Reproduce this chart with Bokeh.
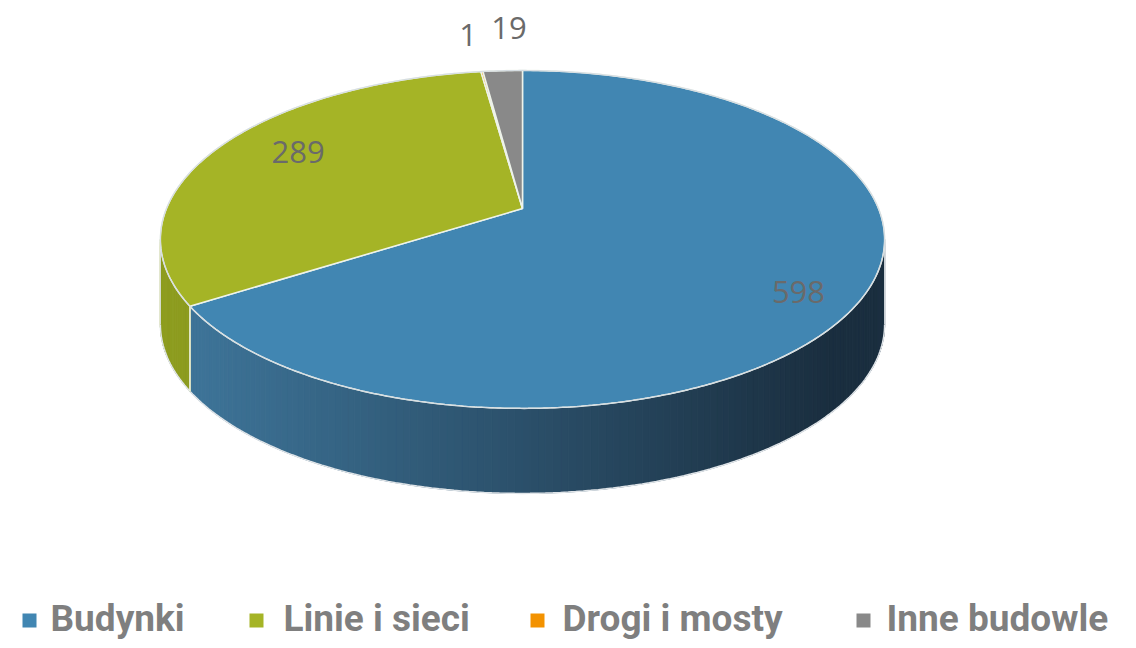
import numpy as np
from bokeh.plotting import figure
from bokeh.embed import file_html
from bokeh.resources import INLINE
from bokeh.core.properties import value

# ---- data ----
categories = ["Budynki", "Linie i sieci", "Drogi i mosty", "Inne budowle"]
values = [598, 289, 1, 19]
top_colors = ["#4186b2", "#a5b426", "#f39200", "#898989"]

# ---- layout (screen pixel coordinates) ----
AX, AY = 522.0, 208.0      # projected centre of the pie
K = 0.183                  # perspective strength
SX, SY = 356.0, 163.3      # projection scales
DEPTH = 85.0
label_r = [0.82, 0.75, 1.3, 1.3]
label_nudge = [(0, 14), (5, -8), (-4, -3), (11, -9)]

p = figure(width=1128, height=640, x_range=(0, 1128), y_range=(640, 0),
           output_backend="svg", toolbar_location=None, min_border=0)
p.axis.visible = False
p.grid.visible = False
p.outline_line_color = None
p.background_fill_color = "white"
p.border_fill_color = "white"


def proj(theta_deg, r=1.0, dy=0.0):
    t = np.radians(theta_deg)
    u, v = r * np.sin(t), r * np.cos(t)
    w = 1.0 + K * v
    return AX + SX * u / w, AY - SY * v / w + dy


def hex2rgb(h):
    h = h.lstrip("#")
    return np.array([int(h[i:i + 2], 16) for i in (0, 2, 4)], dtype=float)


def rgb2hex(c):
    c = np.clip(np.round(c), 0, 255).astype(int)
    return "#%02x%02x%02x" % tuple(c)


total = float(sum(values))
angles = []
a = 0.0
for v in values:
    span = 360.0 * v / total
    angles.append((a, a + span))
    a += span

side_grad = {
    0: ("#3d7397", "#1a2e3f"),
    1: ("#8d9c1f", "#7d8b19"),
    2: ("#c87800", "#b06a00"),
    3: ("#6e6e6e", "#5a5a5a"),
}

# visible side: between the silhouette points
TS = np.degrees(np.arccos(-K))
TE = 360.0 - TS
xl, _ = proj(TE)
xr, _ = proj(TS)

for i, (a0, a1) in enumerate(angles):
    s0, s1 = max(a0, TS), min(a1, TE)
    if s1 <= s0:
        continue
    n = max(2, int((s1 - s0) / 1.0))
    th = np.linspace(s0, s1, n + 1)
    cl, cr = hex2rgb(side_grad[i][0]), hex2rgb(side_grad[i][1])
    xs, ys, cols = [], [], []
    for k in range(n):
        x0, y0 = proj(th[k])
        x1, y1 = proj(th[k + 1])
        xs.append([x0, x1, x1, x0])
        ys.append([y0, y1, y1 + DEPTH, y0 + DEPTH])
        xm = (x0 + x1) / 2
        if i == 0:
            f = np.clip((xm - 200) / 630, 0, 1)
        else:
            f = np.clip((xm - xl) / (xr - xl), 0, 1)
        cols.append(rgb2hex(cl + (cr - cl) * f))
    p.patches(xs, ys, fill_color=cols, line_color=cols, line_width=1)
    bx, by = proj(th, dy=DEPTH)
    p.line(bx, by, line_color="#dfe4e8", line_width=1.5)
    for t in (s0, s1):
        if TS < t < TE:
            ex, ey = proj(t)
            p.line([ex, ex], [ey, ey + DEPTH], line_color="#f2f5e6", line_width=1.5)

# silhouette vertical edges (light)
for t in (TS, TE):
    ex, ey = proj(t)
    p.line([ex, ex], [ey, ey + DEPTH], line_color="#dfe4e8", line_width=1)

# ---- top face ----
for i, (a0, a1) in enumerate(angles):
    n = max(2, int((a1 - a0) / 0.5))
    th = np.linspace(a0, a1, n + 1)
    ex, ey = proj(th)
    xs = [AX] + list(ex) + [AX]
    ys = [AY] + list(ey) + [AY]
    p.patch(xs, ys, fill_color=top_colors[i], line_color="#eef3ea", line_width=1.5)

th = np.linspace(0, 360, 721)
rx_, ry_ = proj(th)
p.line(rx_, ry_, line_color="#d6dde2", line_width=1.2)

# ---- data labels ----
lx, ly, lt = [], [], []
for i, (a0, a1) in enumerate(angles):
    x, y = proj((a0 + a1) / 2, r=label_r[i])
    lx.append(x + label_nudge[i][0])
    ly.append(y + label_nudge[i][1])
    lt.append(str(values[i]))
p.text(lx, ly, text=lt, text_font=value("Open Sans"), text_font_size="31px",
       text_color="#6a6a6a", text_align="center", text_baseline="middle")

# ---- legend ----
leg_sq_x = [29, 256, 537, 863]
leg_tx_x = [50, 283, 562, 886]
leg_y = 618
p.rect(leg_sq_x, [leg_y + 2] * 4, width=14, height=14, fill_color=top_colors,
       line_color=None)
p.text(leg_tx_x, [leg_y] * 4, text=categories, text_font=value("Roboto"),
       text_font_style="bold", text_font_size="37px", text_color="#7f7f7f",
       text_align="left", text_baseline="middle")

open("out.html", "w").write(file_html(p, INLINE))
